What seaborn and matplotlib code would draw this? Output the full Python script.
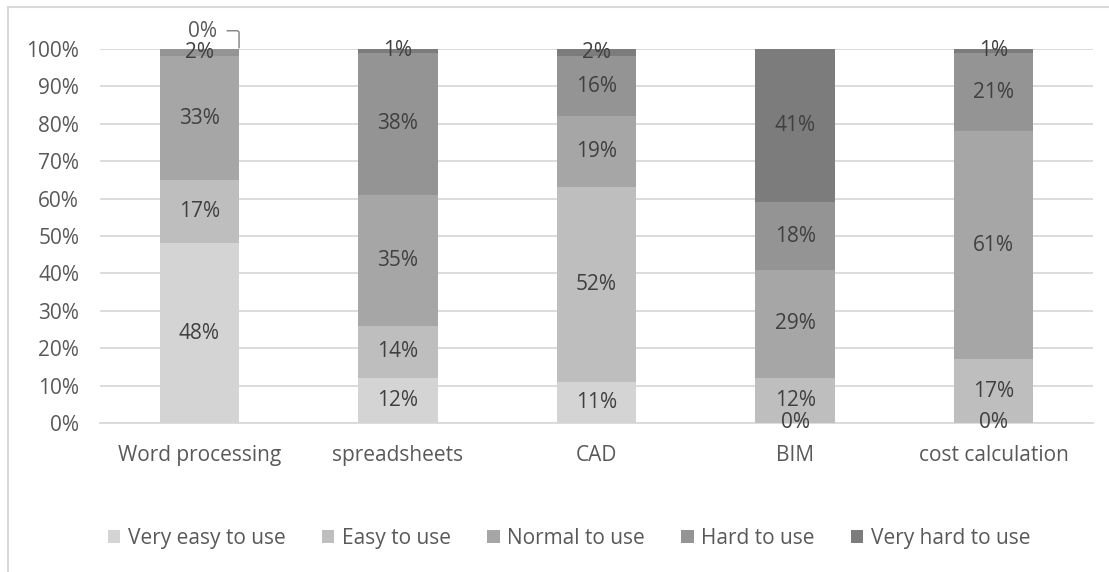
import matplotlib
matplotlib.use("Agg")
import matplotlib.pyplot as plt
from matplotlib.lines import Line2D
from matplotlib.patches import Patch
import numpy as np
import seaborn as sns

categories = ["Word processing", "spreadsheets", "CAD", "BIM", "cost calculation"]
levels = ["Very easy to use", "Easy to use", "Normal to use", "Hard to use", "Very hard to use"]
very_easy = [48, 12, 11, 0, 0]
easy = [17, 14, 52, 12, 17]
normal = [33, 35, 19, 29, 61]
hard = [2, 38, 16, 18, 21]
very_hard = [0, 1, 2, 41, 1]
series = [very_easy, easy, normal, hard, very_hard]
colors = ["#d4d4d4", "#bebebe", "#a6a6a6", "#949494", "#7c7c7c"]
yticks = list(range(0, 101, 10))

sns.set_theme(style="white")
plt.rcParams["font.family"] = ["Open Sans", "DejaVu Sans"]

text_col = "#595959"
label_col = "#404040"
fs = 15

fig = plt.figure(figsize=(11.09, 5.72), dpi=100)
ax = fig.add_axes([0.0902, 0.2605, 0.8954, 0.6538])

bottoms = np.zeros(len(categories))
for name, vals, col in zip(levels, series, colors):
    sns.barplot(x=categories, y=vals, bottom=bottoms, color=col, width=0.4,
                saturation=1, ax=ax, label=name, zorder=3, linewidth=0)
    vals_arr = np.array(vals, dtype=float)
    for i, (v, b) in enumerate(zip(vals_arr, bottoms)):
        if name == "Very hard to use" and i == 0:
            # zero share on top of the first bar: label lifted above with a leader line
            ax.annotate(f"{int(v)}%", xy=(i + 0.2, b + v + 0.3), xytext=(i + 0.015, b + 4.6),
                        ha="center", va="center", fontsize=fs, color=text_col,
                        annotation_clip=False,
                        arrowprops=dict(arrowstyle="-", color="#7f7f7f", lw=1.0,
                                        connectionstyle="angle,angleA=0,angleB=90,rad=2",
                                        shrinkA=5, shrinkB=0, relpos=(1.0, 0.55)))
        else:
            ax.text(i, b + v / 2, f"{int(v)}%", ha="center", va="center",
                    fontsize=fs, color=label_col, zorder=5)
    bottoms = bottoms + vals_arr

ax.set_xlim(-0.5, len(categories) - 0.5)
ax.set_ylim(0, 100)
ax.set_yticks(yticks)
ax.set_yticklabels([f"{t}%" for t in yticks])
ax.yaxis.grid(True, color="#d9d9d9", linewidth=1.3, zorder=0)
ax.set_axisbelow(True)
for s in ["top", "right", "left"]:
    ax.spines[s].set_visible(False)
ax.spines["bottom"].set_color("#d9d9d9")
ax.spines["bottom"].set_linewidth(1.3)
ax.tick_params(axis="both", length=0, labelsize=fs, labelcolor=text_col)
ax.tick_params(axis="y", pad=15)
ax.tick_params(axis="x", pad=16)
ax.set_xlabel("")
ax.set_ylabel("")
if ax.get_legend() is not None:
    ax.get_legend().remove()

handles = [Patch(facecolor=c, edgecolor="none") for c in colors]
fig.legend(handles, levels, loc="center", bbox_to_anchor=(0.513, 0.059), ncol=5,
           frameon=False, fontsize=fs, labelcolor=text_col, handlelength=0.6,
           handleheight=0.6, handletextpad=0.35, columnspacing=1.75)

# chart frame along the top and left edges
fig.add_artist(Line2D([8 / 1109, 1.0], [1 - 7 / 572, 1 - 7 / 572], color="#d9d9d9", lw=1.5))
fig.add_artist(Line2D([8 / 1109, 8 / 1109], [0.0, 1 - 7 / 572], color="#d9d9d9", lw=1.5))

fig.savefig("out.png", dpi=100, facecolor="white")
